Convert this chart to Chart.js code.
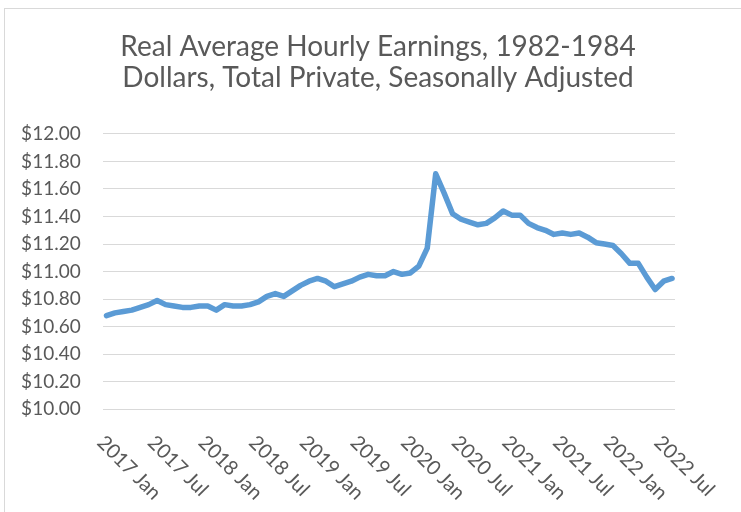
<!DOCTYPE html>
<html>
<head>
<meta charset="utf-8">
<script src="https://cdn.jsdelivr.net/npm/chart.js@4.4.1/dist/chart.umd.min.js"></script>
<style>
  html, body { margin: 0; padding: 0; background: #fff; overflow: hidden; }
  #wrap { position: relative; width: 741px; height: 512px; }
  #frame { position: absolute; left: 4px; top: 8px; width: 800px; height: 600px; border: 1px solid #d9d9d9; }
  #marketChart { position: absolute; left: 0; top: 0; }
</style>
</head>
<body>
<div id="wrap">
  <div id="frame"></div>
  <canvas id="marketChart" width="741" height="512"></canvas>
</div>
<script>
const titleLines = ['Real Average Hourly Earnings, 1982-1984', 'Dollars, Total Private, Seasonally Adjusted'];

const monthNames = ['Jan', 'Feb', 'Mar', 'Apr', 'May', 'Jun', 'Jul', 'Aug', 'Sep', 'Oct', 'Nov', 'Dec'];
const months = [];
for (let y = 2017; y <= 2022; y++) {
  monthNames.forEach((m, k) => {
    if (y < 2022 || k <= 7) months.push(y + ' ' + m);
  });
}

// Jan 2017 .. Aug 2022
const earnings = [
  10.68, 10.70, 10.71, 10.72, 10.74, 10.76, 10.79, 10.76, 10.75, 10.74, 10.74, 10.75,
  10.75, 10.72, 10.76, 10.75, 10.75, 10.76, 10.78, 10.82, 10.84, 10.82, 10.86, 10.90,
  10.93, 10.95, 10.93, 10.89, 10.91, 10.93, 10.96, 10.98, 10.97, 10.97, 11.00, 10.98,
  10.99, 11.04, 11.17, 11.71, 11.57, 11.42, 11.38, 11.36, 11.34, 11.35, 11.39, 11.44,
  11.41, 11.41, 11.35, 11.32, 11.30, 11.27, 11.28, 11.27, 11.28, 11.25, 11.21, 11.20,
  11.19, 11.13, 11.06, 11.06, 10.96, 10.87, 10.93, 10.95
];

const xTickLabels = ['2017 Jan', '2017 Jul', '2018 Jan', '2018 Jul', '2019 Jan', '2019 Jul',
  '2020 Jan', '2020 Jul', '2021 Jan', '2021 Jul', '2022 Jan', '2022 Jul'];
const yTickValues = [10, 10.2, 10.4, 10.6, 10.8, 11, 11.2, 11.4, 11.6, 11.8, 12];

const textColor = '#595959';
const fontFamily = "Lato, 'Open Sans', sans-serif";

const rotatedLabels = {
  id: 'rotatedLabels',
  afterDraw(chart) {
    const ctx = chart.ctx;
    const xs = chart.scales.x;
    ctx.save();
    ctx.font = '20px ' + fontFamily;
    ctx.fillStyle = textColor;
    ctx.textAlign = 'left';
    ctx.textBaseline = 'middle';
    xTickLabels.forEach(lbl => {
      const i = months.indexOf(lbl);
      const px = xs.getPixelForValue(i);
      ctx.save();
      ctx.translate(px - 6, xs.top + 30);
      ctx.rotate(Math.PI / 4);
      ctx.fillText(lbl, 0, 0);
      ctx.restore();
    });
    ctx.restore();
  }
};

const ctx = document.getElementById('marketChart');
new Chart(ctx, {
  type: 'line',
  data: {
    datasets: [{
      label: 'Real Average Hourly Earnings',
      data: earnings.map((v, i) => ({ x: i, y: v })),
      borderColor: '#5b9bd5',
      borderWidth: 5.5,
      borderJoinStyle: 'round',
      borderCapStyle: 'round',
      pointRadius: 0,
      tension: 0,
      fill: false
    }]
  },
  options: {
    responsive: false,
    animation: false,
    layout: { padding: { left: 15, right: 0, top: 0, bottom: 0 } },
    plugins: {
      legend: { display: false },
      tooltip: { enabled: false },
      title: {
        display: true,
        text: titleLines,
        color: textColor,
        font: { family: fontFamily, size: 28, weight: 'normal', lineHeight: 1.13 },
        padding: { top: 31, bottom: 39.6 }
      }
    },
    scales: {
      x: {
        type: 'linear',
        min: -0.45,
        max: 67.35,
        grid: { display: false },
        border: { display: false },
        ticks: { display: false },
        afterFit: s => { s.height = 102.7; }
      },
      y: {
        min: 10,
        max: 12,
        afterBuildTicks: s => { s.ticks = yTickValues.map(v => ({ value: v })); },
        grid: { color: '#d9d9d9', lineWidth: 1, drawTicks: false },
        border: { display: false },
        ticks: {
          color: textColor,
          font: { family: fontFamily, size: 19 },
          padding: 22,
          callback: v => '$' + Number(v).toFixed(2)
        },
        afterFit: s => { s.width = 87.7; }
      },
      yRight: {
        position: 'right',
        min: 10,
        max: 12,
        grid: { display: false },
        border: { display: false },
        ticks: { display: false },
        afterFit: s => { s.width = 66; }
      }
    }
  },
  plugins: [rotatedLabels]
});
</script>
</body>
</html>
